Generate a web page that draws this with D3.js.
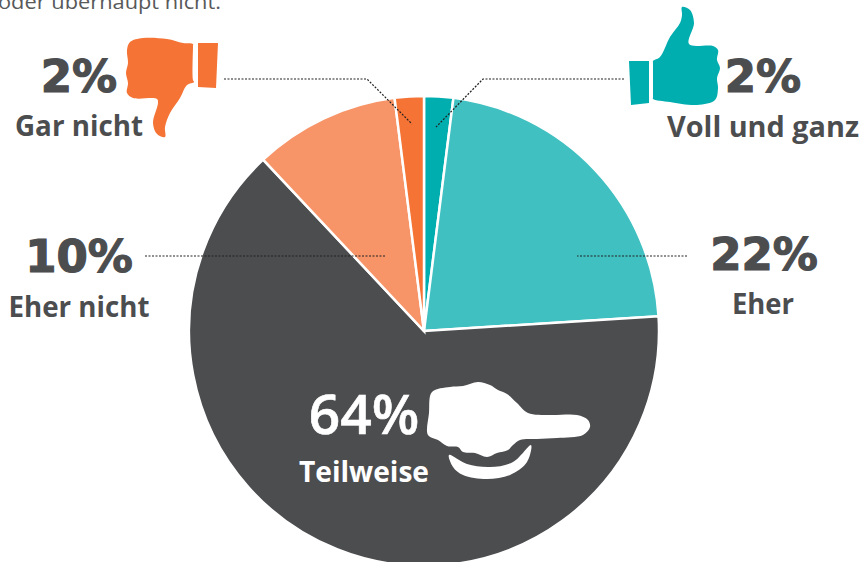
<!DOCTYPE html>
<html>
<head>
<meta charset="utf-8">
<script src="https://cdn.jsdelivr.net/npm/d3@7"></script>
<style>
    html, body { margin: 0; padding: 0; background: #fff; }
    svg { display: block; }
    text { font-family: "Open Sans", "Noto Sans", sans-serif; }
</style>
</head>
<body>
<div id="chart"></div>
<script>
const categories = ["Voll und ganz", "Eher", "Teilweise", "Eher nicht", "Gar nicht"];
const values = [2, 22, 64, 10, 2];
const sliceColors = ["#00adaf", "#40c0c1", "#4c4d4f", "#f79468", "#f47335"];

const width = 861;
const height = 562;
const dark = "#4c4d4f";

const svg = d3.select("#chart").append("svg")
    .attr("width", width)
    .attr("height", height);

// cut off line of the intro text above the chart
svg.append("text")
    .attr("x", -2)
    .attr("y", 9)
    .attr("font-size", 20)
    .attr("textLength", 223)
    .attr("lengthAdjust", "spacingAndGlyphs")
    .attr("fill", "#58595b")
    .text("oder überhaupt nicht.");

// pie
const radius = 235;
const chart = svg.append("g").attr("transform", "translate(424,331)");

const pie = d3.pie().sort(null).value(d => d);
const arc = d3.arc().innerRadius(0).outerRadius(radius);

chart.selectAll("path")
    .data(pie(values))
    .join("path")
    .attr("d", arc)
    .attr("fill", (d, i) => sliceColors[i])
    .attr("stroke", "white")
    .attr("stroke-width", 2.5);

// dotted leaders
const leaders = [
    [[224, 79], [367, 79], [412, 124]],
    [[624, 79], [483, 79], [436, 127]],
    [[145, 256], [385, 256]],
    [[687, 256], [577, 256]]
];
svg.selectAll(".leader")
    .data(leaders)
    .join("path")
    .attr("class", "leader")
    .attr("d", d3.line())
    .attr("fill", "none")
    .attr("stroke", "#222")
    .attr("stroke-width", 1.2)
    .attr("stroke-dasharray", "2 1.5");

// hand icons
const closed = d3.line().curve(d3.curveCatmullRomClosed.alpha(0.5));
const straight = d3.line().curve(d3.curveLinearClosed);

const thumbDown = [[130,42],[143,38],[167,39],[183,43],[193,44],[193,46],[193,80],[194,82],[187,85],[180,98],[170,113],[165,127],[165,137],[157,134],[153,123],[158,103],[157,99],[133,98],[127,93],[128,83],[126,73],[128,63],[127,50]];
const thumbDownCuff = [[198,43],[218,43],[216,88],[198,87]];
const thumbUp = [[682,7],[690,10],[694,23],[689,44],[713,46],[718,50],[717,60],[720,68],[717,78],[718,88],[715,100],[697,105],[670,102],[653,99],[653,97],[653,63],[653,61],[660,57],[670,37],[680,23],[682,15]];
const thumbUpCuff = [[629,61],[649,61],[649,103],[631,105]];
const pointing = [[432,392],[450,387],[463,386],[478,382],[490,385],[498,390],[507,394],[517,403],[528,413],[550,415],[577,415],[588,420],[590,427],[583,435],[557,438],[537,439],[520,440],[513,445],[508,450],[497,453],[487,457],[475,453],[463,452],[458,447],[447,446],[438,440],[428,435],[429,413]];
const smile = [[449,455],[467,464],[490,467],[513,462],[531,445],[527,462],[510,475],[487,479],[463,475],[453,467]];

svg.append("path").attr("d", closed(thumbDown)).attr("fill", "#f47335");
svg.append("path").attr("d", straight(thumbDownCuff)).attr("fill", "#f47335");
svg.append("path").attr("d", closed(thumbUp)).attr("fill", "#00adaf");
svg.append("path").attr("d", straight(thumbUpCuff)).attr("fill", "#00adaf");
svg.append("path").attr("d", closed(pointing)).attr("fill", "white");
svg.append("path").attr("d", closed(smile)).attr("fill", "white");

// labels: x of the centre, y of the baselines
const percentX = [763, 764, 364, 79, 79];
const percentY = [92, 270, 434, 272, 92];
const percentSize = [45, 45, 55, 45, 45];
const nameX = [763, 763, 364, 79, 79];
const nameY = [137, 314, 482, 317, 136];
const nameWidth = [192, 62, 130, 141, 128];

svg.selectAll(".percent")
    .data(values)
    .join("text")
    .attr("class", "percent")
    .attr("x", (d, i) => percentX[i])
    .attr("y", (d, i) => percentY[i])
    .attr("text-anchor", "middle")
    .attr("font-size", (d, i) => percentSize[i])
    .style("font-family", (d, i) => i === 2 ? null : "'DejaVu Sans'")
    .attr("font-weight", (d, i) => i === 2 ? 600 : 700)
    .attr("fill", (d, i) => i === 2 ? "white" : dark)
    .attr("stroke", (d, i) => i === 2 ? "white" : dark)
    .attr("stroke-width", (d, i) => i === 2 ? 0.6 : 1.2)
    .text(d => d + "%");

svg.selectAll(".name")
    .data(categories)
    .join("text")
    .attr("class", "name")
    .attr("x", (d, i) => nameX[i])
    .attr("y", (d, i) => nameY[i])
    .attr("text-anchor", "middle")
    .attr("font-size", 29)
    .attr("font-weight", 700)
    .attr("textLength", (d, i) => nameWidth[i])
    .attr("lengthAdjust", "spacingAndGlyphs")
    .attr("fill", (d, i) => i === 2 ? "white" : dark)
    .text(d => d);
</script>
</body>
</html>
